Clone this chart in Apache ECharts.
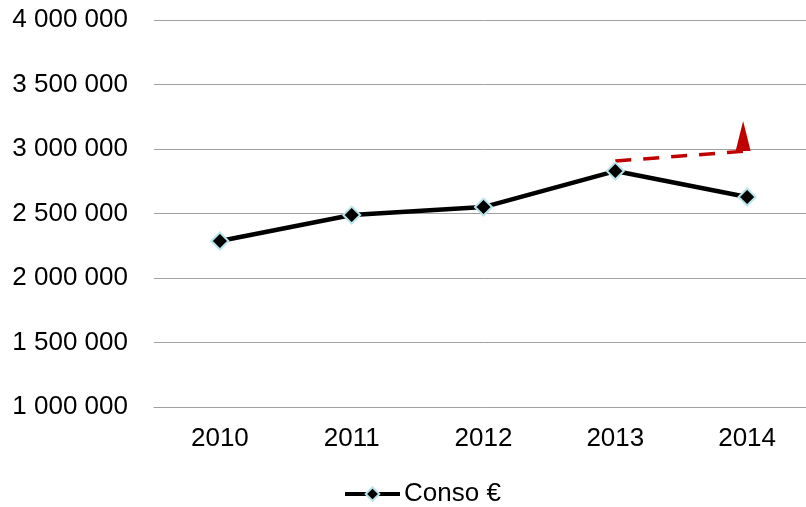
<!DOCTYPE html>
<html><head><meta charset="utf-8">
<script src="https://cdn.jsdelivr.net/npm/echarts@6/dist/echarts.min.js"></script>
<style>html,body{margin:0;padding:0;background:#fff;overflow:hidden}#c{width:813px;height:507px}</style>
</head><body><div id="c"></div>
<script>
const categories = ['2010','2011','2012','2013','2014'];
const consoValues = [2287000, 2488000, 2550000, 2829000, 2628000];
const trendValues = [null, null, null, 2907000, 2984000];
const arrowPoint = ['2014', 3100000];
const legendName = 'Conso €';

function fmt(v){ return String(v).replace(/\B(?=(\d{3})+(?!\d))/g, ' '); }

const FONT = 'Liberation Sans, Arial, sans-serif';
const chart = echarts.init(document.getElementById('c'), null, {renderer:'canvas'});
chart.setOption({
  animation:false,
  textStyle:{fontFamily:FONT},
  grid:{left:154, top:20, right:0, height:387, containLabel:false},
  legend:{
    top:481, left:343, padding:0, data:[legendName], itemWidth:55, itemHeight:17,
    itemGap:4,
    lineStyle:{width:4},
    textStyle:{fontSize:26, color:'#000', fontFamily:FONT, padding:[0,0,0,-1]}
  },
  xAxis:{
    type:'category', data:categories, boundaryGap:true,
    axisLine:{lineStyle:{color:'#a0a0a0', width:1}},
    axisTick:{show:false},
    axisLabel:{fontSize:26, color:'#000', margin:19}
  },
  yAxis:{
    type:'value', min:1000000, max:4000000, interval:500000,
    axisLine:{show:false}, axisTick:{show:false},
    splitLine:{lineStyle:{color:'#a0a0a0', width:1}},
    axisLabel:{fontSize:26, color:'#000', margin:26, formatter:fmt}
  },
  series:[
    {
      name:'trend', type:'line', data:trendValues, symbol:'none',
      lineStyle:{color:'#c00000', width:3.5, type:[16,12]}, z:3,
      markPoint:{
        silent:true,
        symbol:'triangle', symbolSize:[15,30], symbolOffset:[-4,0],
        itemStyle:{color:'#c00000'}, label:{show:false},
        data:[{coord:arrowPoint}]
      }
    },
    {
      name:legendName, type:'line', data:consoValues,
      symbol:'diamond', symbolSize:17,
      lineStyle:{color:'#000', width:4.5},
      itemStyle:{color:'#000', borderColor:'#b8e4ea', borderWidth:2},
      z:4
    }
  ]
});
</script></body></html>
